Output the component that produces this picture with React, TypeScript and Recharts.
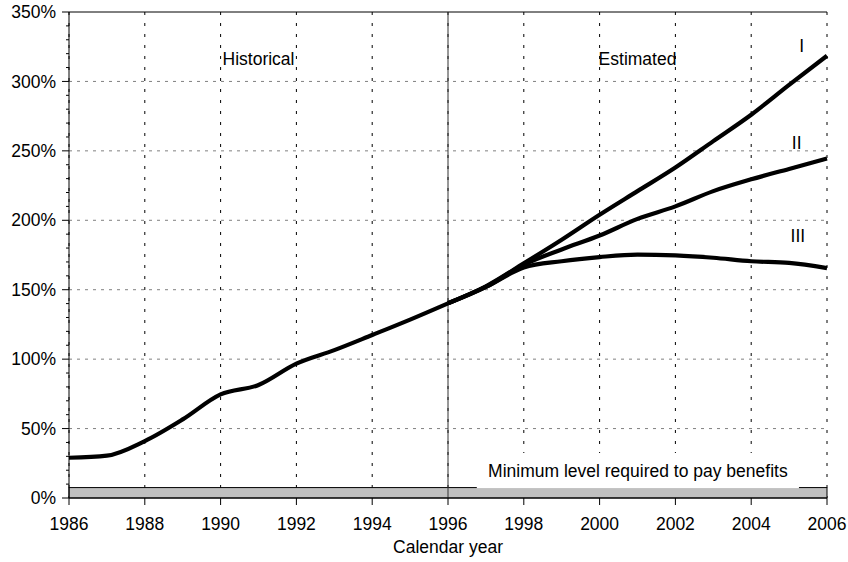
import React from 'react';
import {
  LineChart,
  Line,
  XAxis,
  YAxis,
  CartesianGrid,
  ReferenceLine,
  ReferenceArea,
  ReferenceDot,
  Label,
} from 'recharts';

const YEARS = [1986, 1987, 1988, 1989, 1990, 1991, 1992, 1993, 1994, 1995, 1996, 1997, 1998, 1999, 2000, 2001, 2002, 2003, 2004, 2005, 2006];
const HISTORICAL = [29, 30.5, 41, 56.6, 74.6, 81.4, 96.8, 106.5, 117.4, 128.5, 140.2, null, null, null, null, null, null, null, null, null, null];
const EST_I = [null, null, null, null, null, null, null, null, null, null, 140.2, 152.5, 169, 186, 204, 221, 238, 257, 276, 297.5, 318.5];
const EST_II = [null, null, null, null, null, null, null, null, null, null, 140.2, 152, 168, 179, 189, 201, 210, 221, 229.5, 237, 244.5];
const EST_III = [null, null, null, null, null, null, null, null, null, null, 140.2, 152, 166, 170.5, 173.5, 175.3, 174.7, 173, 170.5, 169.3, 165.6];

const X_TICKS = [1986, 1988, 1990, 1992, 1994, 1996, 1998, 2000, 2002, 2004, 2006];
const Y_TICKS = [0, 10, 20, 30, 40, 50, 60, 70, 80, 90, 100, 110, 120, 130, 140, 150, 160, 170, 180, 190, 200, 210, 220, 230, 240, 250, 260, 270, 280, 290, 300, 310, 320, 330, 340, 350];
const Y_GRID = [50, 100, 150, 200, 250, 300];
const MIN_LEVEL = 7.5;
const SPLIT_YEAR = 1996;

const data = YEARS.map((year, i) => ({
  year,
  historical: HISTORICAL[i],
  i: EST_I[i],
  ii: EST_II[i],
  iii: EST_III[i],
}));

const FONT = '"Liberation Sans", Arial, sans-serif';
const FS = 17.5;
const W = 848;
const H = 562;
const MARGIN = { top: 12, right: 21, left: 14, bottom: 0 };
const Y_WIDTH = 55;
const AXIS_X = MARGIN.left + Y_WIDTH;

// y tick: label on multiples of 50, short minor tick every 10%
const YTick = (props: any) => {
  const { y, payload } = props;
  const major = payload.value % 50 === 0;
  return (
    <g>
      <line x1={AXIS_X - (major ? 7 : 3)} x2={AXIS_X} y1={y} y2={y} stroke="#000" />
      {major && (
        <text x={AXIS_X - 13} y={y} dy="0.355em" textAnchor="end" fontSize={FS} fill="#000" fontFamily={FONT}>
          {payload.value}%
        </text>
      )}
    </g>
  );
};

const lineLabel = (value: string) => ({ value, position: 'center' as const, fill: '#000', fontSize: FS, fontFamily: FONT });

export default function App() {
  return (
    <div style={{ fontFamily: FONT, width: W, height: H, position: 'absolute', left: 0, top: 0 }}>
      <LineChart width={W} height={H} data={data} margin={MARGIN} style={{ overflow: 'visible' }}>
        <CartesianGrid horizontal={false} stroke="#000" strokeDasharray="3 8" />
        {Y_GRID.map((v) => (
          <ReferenceLine key={v} y={v} stroke="#808080" strokeDasharray="3 5" />
        ))}
        <ReferenceLine y={350} stroke="#000" />
        <ReferenceLine x={SPLIT_YEAR} stroke="#333" />
        <ReferenceArea y1={0} y2={MIN_LEVEL} fill="#c0c0c0" fillOpacity={1} stroke="#000" strokeWidth={1} />
        <ReferenceArea x1={1996.76} x2={2005.26} y1={7.1} y2={32.4} fill="#fff" fillOpacity={1} stroke="none">
          <Label value="Minimum level required to pay benefits" position="center" fill="#000" fontSize={FS} fontFamily={FONT} />
        </ReferenceArea>
        <XAxis
          dataKey="year"
          type="number"
          domain={[1986, 2006]}
          ticks={X_TICKS}
          height={64}
          stroke="#000"
          tickSize={7}
          tickMargin={13}
          tick={{ fontSize: FS, fill: '#000', fontFamily: FONT }}
        >
          <Label value="Calendar year" position="insideBottom" offset={9} fill="#000" fontSize={FS} fontFamily={FONT} />
        </XAxis>
        <YAxis
          type="number"
          domain={[0, 350]}
          ticks={Y_TICKS}
          interval={0}
          width={Y_WIDTH}
          stroke="#000"
          tickLine={false}
          tick={<YTick />}
        />
        <Line dataKey="historical" type="monotone" stroke="#000" strokeWidth={4.2} dot={false} isAnimationActive={false} />
        <Line dataKey="i" type="monotone" stroke="#000" strokeWidth={4.2} dot={false} isAnimationActive={false} />
        <Line dataKey="ii" type="monotone" stroke="#000" strokeWidth={4.2} dot={false} isAnimationActive={false} />
        <Line dataKey="iii" type="monotone" stroke="#000" strokeWidth={4.2} dot={false} isAnimationActive={false} />
        <ReferenceDot x={1991} y={316} r={0} fill="none" stroke="none" label={lineLabel('Historical')} />
        <ReferenceDot x={2001} y={316} r={0} fill="none" stroke="none" label={lineLabel('Estimated')} />
        <ReferenceDot x={2005.33} y={325.4} r={0} fill="none" stroke="none" label={lineLabel('I')} />
        <ReferenceDot x={2005.2} y={256} r={0} fill="none" stroke="none" label={lineLabel('II')} />
        <ReferenceDot x={2005.23} y={188.6} r={0} fill="none" stroke="none" label={lineLabel('III')} />
      </LineChart>
    </div>
  );
}
